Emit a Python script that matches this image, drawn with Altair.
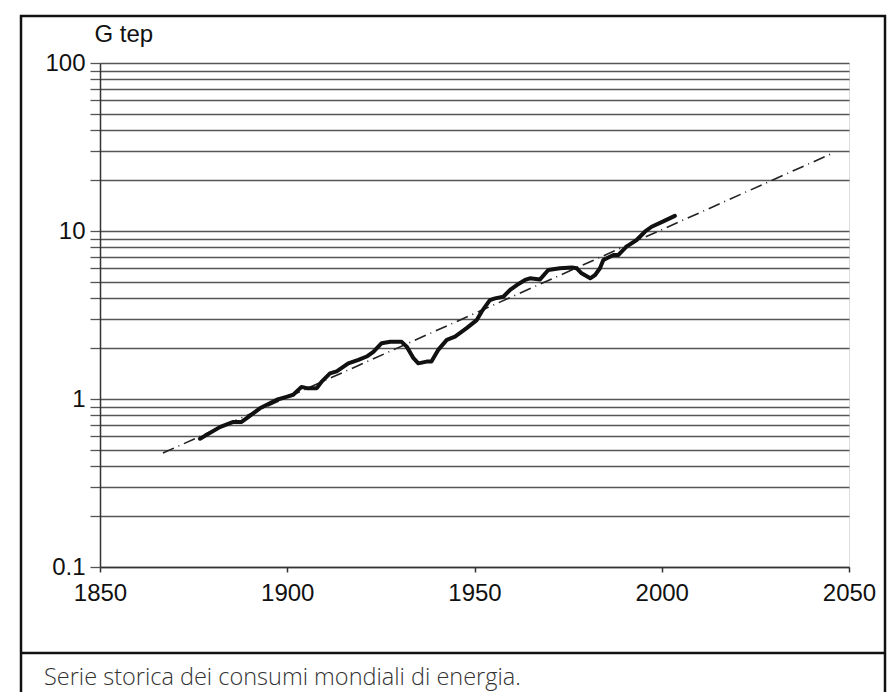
import altair as alt
import pandas as pd

# Historical world energy consumption (G tep)
years = [1876.7, 1882, 1885.6, 1887.8, 1889.2, 1892.7, 1897.2, 1899.8, 1901.6, 1903.8,
         1905.2, 1907.9, 1909.2, 1911.4, 1913.2, 1916.3, 1919, 1921.2, 1923, 1925.2,
         1927.5, 1930.5, 1931.9, 1933.7, 1935, 1937.2, 1938.5, 1940.3, 1942.6, 1944.8,
         1947.9, 1950.6, 1951.9, 1954.1, 1955.5, 1957.7, 1959.5, 1961.3, 1963.5, 1964.8,
         1967.5, 1969.7, 1972.8, 1976, 1977.3, 1978.6, 1980.9, 1982.2, 1983.5, 1984.4,
         1987.1, 1988.4, 1990.6, 1993.3, 1995.5, 1997.3, 2000.4, 2003.5]
values = [0.58, 0.68, 0.73, 0.73, 0.77, 0.88, 0.99, 1.03, 1.06, 1.18,
          1.16, 1.16, 1.27, 1.42, 1.46, 1.63, 1.71, 1.79, 1.91, 2.15,
          2.19, 2.19, 2.05, 1.75, 1.63, 1.67, 1.67, 1.96, 2.25, 2.35,
          2.64, 2.95, 3.31, 3.88, 3.97, 4.06, 4.46, 4.77, 5.11, 5.23,
          5.15, 5.86, 6.0, 6.07, 6.0, 5.6, 5.23, 5.47, 6.0, 6.72,
          7.2, 7.2, 8.07, 8.84, 9.9, 10.6, 11.4, 12.3]

# Exponential trend line (end points)
trend_years = [1866.8, 2045.7]
trend_values = [0.477, 29.1]

x_ticks = [1850, 1900, 1950, 2000, 2050]
y_ticks = [0.1, 0.2, 0.3, 0.4, 0.5, 0.6, 0.7, 0.8, 0.9,
           1, 2, 3, 4, 5, 6, 7, 8, 9,
           10, 20, 30, 40, 50, 60, 70, 80, 90, 100]
y_label_ticks = [0.1, 1, 10, 100]

y_title = "G tep"
caption = ["Serie storica dei consumi mondiali di energia."]

data = pd.DataFrame({"anno": years, "consumo": values})
trend = pd.DataFrame({"anno": trend_years, "consumo": trend_values})
one = pd.DataFrame({"caption": caption})

label_test = " || ".join(f"datum.value == {v}" for v in y_label_ticks)

x_enc = alt.X("anno:Q",
              scale=alt.Scale(domain=[1850, 2050], nice=False, zero=False),
              axis=alt.Axis(values=x_ticks, format="d", title=None, grid=False,
                            tickSize=5, labelPadding=9, labelFontSize=24,
                            labelFlush=False, labelOverlap=False,
                            labelFont="Liberation Sans", labelColor="#111",
                            domainColor="#333", domainWidth=1.5,
                            tickColor="#333", tickWidth=1.5))
y_enc = alt.Y("consumo:Q",
              scale=alt.Scale(type="log", domain=[0.1, 100], nice=False),
              axis=alt.Axis(values=y_ticks, format="~g",
                            labelExpr=f"({label_test}) ? datum.label : ''",
                            labelFlush=False, labelOverlap=False,
                            title=y_title, titleAngle=0, titleAlign="left",
                            titleBaseline="alphabetic", titleX=-6, titleY=-22,
                            titleFontSize=24, titleFontWeight="normal",
                            titleFont="Liberation Sans", titleColor="#111",
                            grid=True, gridColor="#555", gridWidth=1.3,
                            tickSize=10, tickColor="#555", tickWidth=1.3,
                            labelPadding=5, labelFontSize=24,
                            labelFont="Liberation Sans", labelColor="#111",
                            domainColor="#333", domainWidth=1.5))

trend_line = alt.Chart(trend).mark_line(
    color="#222", strokeWidth=1.6, strokeDash=[12, 5, 1, 5]
).encode(x=x_enc, y=y_enc)

main_line = alt.Chart(data).mark_line(
    color="#111", strokeWidth=4, strokeJoin="round", strokeCap="round"
).encode(x="anno:Q", y="consumo:Q")

frame = alt.Chart(one).mark_rect(
    fill=None, stroke="#111", strokeWidth=2.5
).encode(x=alt.value(-79), x2=alt.value(785), y=alt.value(-47), y2=alt.value(660))

separator = alt.Chart(one).mark_rule(
    color="#111", strokeWidth=2.5
).encode(x=alt.value(-79), x2=alt.value(785), y=alt.value(590))

caption_text = alt.Chart(one).mark_text(
    align="left", baseline="alphabetic", font="Open Sans", fontWeight=300,
    fontSize=23.5, color="#333"
).encode(x=alt.value(-56), y=alt.value(622), text="caption:N")

chart = alt.layer(trend_line, main_line, frame, separator, caption_text).properties(
    width=749, height=504,
    padding={"left": 92, "top": 55, "right": 38, "bottom": 125},
    autosize=alt.AutoSizeParams(type="none"),
).configure_view(stroke="#444", strokeWidth=1.5).configure(background="white")

chart.save("out.html", embed_options={"renderer": "svg", "actions": False})
